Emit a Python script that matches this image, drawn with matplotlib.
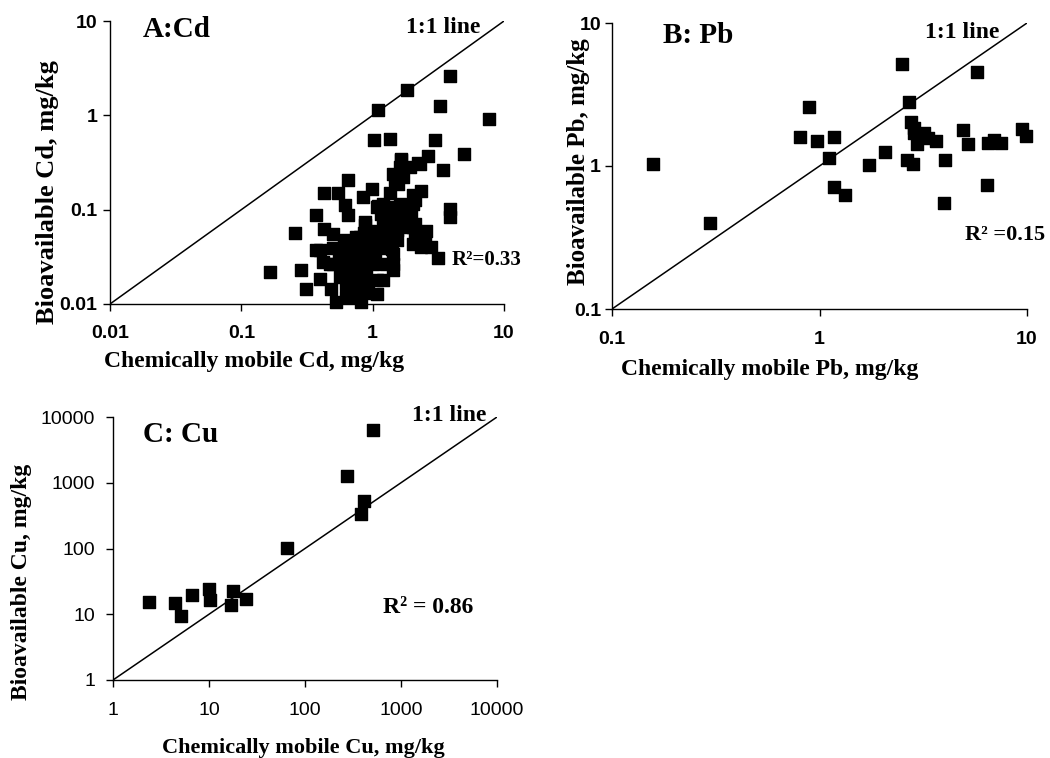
import numpy as np
import matplotlib.pyplot as plt

# Panel A: Cd (chemically mobile vs bioavailable, mg/kg)
cd_x = [3.86, 1.83, 1.10, 3.28, 7.69, 1.02, 1.35, 2.97, 4.96, 1.65, 2.64, 2.28, 3.43,
        0.649, 0.426, 0.544, 0.98, 0.844, 1.35, 2.03, 2.35, 0.612, 0.649, 0.372, 3.86,
        3.86, 0.869, 1.16, 1.81, 2.09, 1.56, 0.258, 0.424, 0.499, 2.03, 2.56, 1.23,
        0.751, 2.09, 2.35, 2.80, 3.14, 0.372, 0.499, 0.708, 1.0, 0.418, 0.164, 0.286,
        0.313, 0.395, 0.484, 0.53, 0.63, 0.82, 1.07, 0.751, 1.20, 1.43, 1.43, 1.27,
        0.895, 0.708, 0.56, 0.63, 0.895, 1.0, 1.0, 0.796, 0.594, 0.47, 0.708, 0.56,
        0.796, 1.43, 1.27, 1.52, 1.52, 1.35, 1.27, 1.70, 1.61, 1.61, 2.03, 1.07, 1.20,
        0.895, 0.796, 0.895, 0.95, 0.63, 0.395, 0.499, 1.43, 1.47, 1.61, 1.70, 1.65,
        1.91, 2.21, 1.56, 1.97, 2.09, 1.35, 1.35, 2.03, 1.47, 1.0, 1.07, 0.895,
        0.75, 0.68, 0.90, 1.15, 0.58, 0.82, 1.25, 0.72, 0.66, 1.05, 0.88, 0.60,
        1.30, 0.78, 0.98, 2.50, 1.80, 1.20, 0.92, 0.55, 0.74, 1.10, 1.40, 0.86]
cd_y = [2.59, 1.84, 1.13, 1.25, 0.91, 0.543, 0.566, 0.543, 0.393, 0.347, 0.367, 0.308,
        0.266, 0.205, 0.151, 0.151, 0.167, 0.136, 0.151, 0.142, 0.157, 0.111, 0.087,
        0.087, 0.102, 0.0835, 0.074, 0.091, 0.102, 0.071, 0.080, 0.057, 0.063, 0.0557,
        0.0654, 0.060, 0.051, 0.051, 0.051, 0.040, 0.040, 0.031, 0.037, 0.039, 0.040,
        0.040, 0.0278, 0.0218, 0.0231, 0.0145, 0.0185, 0.0145, 0.0105, 0.0118, 0.0105,
        0.0128, 0.0139, 0.0178, 0.0227, 0.0267, 0.0267, 0.021, 0.0193, 0.0193, 0.0164,
        0.0164, 0.0267, 0.0314, 0.0267, 0.0267, 0.0267, 0.0314, 0.0314, 0.0341, 0.0341,
        0.0472, 0.0472, 0.0603, 0.0557, 0.039, 0.0654, 0.091, 0.116, 0.116, 0.107,
        0.116, 0.0436, 0.051, 0.0557, 0.060, 0.0472, 0.037, 0.0267, 0.241, 0.205,
        0.283, 0.222, 0.333, 0.283, 0.312, 0.188, 0.091, 0.126, 0.107, 0.0835, 0.0436,
        0.0654, 0.0557, 0.0178, 0.029, 0.022, 0.025, 0.034, 0.045, 0.028, 0.048,
        0.064, 0.018, 0.012, 0.033, 0.068, 0.042, 0.075, 0.015, 0.044, 0.052, 0.098,
        0.072, 0.013, 0.034, 0.019, 0.110, 0.038, 0.056]

# Panel B: Pb
pb_x = [0.158, 0.297, 0.805, 0.893, 0.976, 1.17, 1.11, 1.17, 1.32, 1.74, 2.07, 2.50,
        2.71, 2.76, 2.86, 2.86, 2.65, 2.83, 2.94, 3.20, 3.32, 3.64, 4.03, 3.99, 4.93,
        5.21, 5.76, 6.40, 6.51, 6.93, 7.47, 9.43, 9.86]
pb_y = [1.04, 0.397, 1.60, 2.57, 1.50, 1.60, 1.13, 0.71, 0.627, 1.02, 1.25, 5.17,
        2.79, 2.04, 1.84, 1.69, 1.10, 1.03, 1.43, 1.71, 1.58, 1.50, 1.11, 0.548, 1.79,
        1.43, 4.52, 0.736, 1.45, 1.52, 1.45, 1.81, 1.63]

# Panel C: Cu
cu_x = [2.37, 4.42, 5.1, 6.7, 10.1, 10.2, 17.9, 16.9, 24.1, 64.5, 272, 412, 383, 514]
cu_y = [15.4, 14.7, 9.3, 19.4, 23.9, 16.3, 22.3, 13.7, 16.9, 102, 1277, 534, 336, 6285]

serif = 'Liberation Serif'
sans = 'Liberation Sans'

fig = plt.figure(figsize=(10.5, 7.58), dpi=100)
W, H = 1050, 758


def box(x0, y0, x1, y1):
    return [x0 / W, 1 - y1 / H, (x1 - x0) / W, (y1 - y0) / H]


def setup(ax, lo, hi, ticks, labels, bold, xpad, ypad):
    ax.set_xscale('log')
    ax.set_yscale('log')
    ax.set_xlim(lo[0], hi[0])
    ax.set_ylim(lo[1], hi[1])
    for s in ['top', 'right']:
        ax.spines[s].set_visible(False)
    for s in ['left', 'bottom']:
        ax.spines[s].set_linewidth(1.0)
    ax.minorticks_off()
    ax.set_xticks(ticks[0])
    ax.set_xticklabels(labels[0])
    ax.set_yticks(ticks[1])
    ax.set_yticklabels(labels[1])
    ax.tick_params(direction='out', length=5, width=1, labelsize=14)
    ax.tick_params(axis='x', pad=xpad)
    ax.tick_params(axis='y', pad=ypad)
    for t in ax.get_xticklabels() + ax.get_yticklabels():
        t.set_fontfamily(sans)
        t.set_fontweight('bold' if bold else 'normal')


def txt(ax, x, y, s, size):
    ax.text(x, y, s, transform=ax.transAxes, fontsize=size, fontweight='bold',
            family=serif, va='baseline', ha='left')


# A
axA = fig.add_axes(box(110, 21, 504, 304))
setup(axA, (0.01, 0.01), (10, 10),
      ([0.01, 0.1, 1, 10], [0.01, 0.1, 1, 10]),
      (['0.01', '0.1', '1', '10'], ['0.01', '0.1', '1', '10']), True, 10, 4)
axA.plot([0.01, 10], [0.01, 10], color='black', lw=1.1)
axA.scatter(cd_x, cd_y, marker='s', s=70, color='black', clip_on=False, zorder=3)
txt(axA, 0.084, 0.943, 'A:Cd', 21)
txt(axA, 0.751, 0.958, '1:1 line', 17)
txt(axA, 0.868, 0.138, 'R²=0.33', 15)
fig.text(254 / W, 1 - 362 / H, 'Chemically mobile Cd, mg/kg', ha='center', va='center',
         fontsize=17, fontweight='bold', family=serif)
fig.text(48 / W, 1 - 192 / H, 'Bioavailable Cd, mg/kg', ha='center', va='center',
         rotation=90, fontsize=19, fontweight='bold', family=serif)

# B
axB = fig.add_axes(box(612, 23, 1027, 309))
setup(axB, (0.1, 0.1), (10, 10),
      ([0.1, 1, 10], [0.1, 1, 10]),
      (['0.1', '1', '10'], ['0.1', '1', '10']), True, 11, 3)
axB.plot([0.1, 10], [0.1, 10], color='black', lw=1.1)
axB.scatter(pb_x, pb_y, marker='s', s=64, color='black', clip_on=False, zorder=3)
txt(axB, 0.123, 0.930, 'B: Pb', 21)
txt(axB, 0.754, 0.948, '1:1 line', 17)
txt(axB, 0.851, 0.241, 'R² =0.15', 16)
fig.text(770 / W, 1 - 370 / H, 'Chemically mobile Pb, mg/kg', ha='center', va='center',
         fontsize=17, fontweight='bold', family=serif)
fig.text(578 / W, 1 - 162 / H, 'Bioavailable Pb, mg/kg', ha='center', va='center',
         rotation=90, fontsize=18, fontweight='bold', family=serif)

# C
axC = fig.add_axes(box(113, 417, 497, 680))
cticks = [1, 10, 100, 1000, 10000]
clabels = ['1', '10', '100', '1000', '10000']
setup(axC, (1, 1), (10000, 10000), (cticks, cticks), (clabels, clabels), False, 11, 8)
axC.plot([1, 10000], [1, 10000], color='black', lw=1.1)
axC.scatter(cu_x, cu_y, marker='s', s=85, color='black', clip_on=False, zorder=3)
txt(axC, 0.078, 0.905, 'C: Cu', 21)
txt(axC, 0.779, 0.985, '1:1 line', 17)
txt(axC, 0.703, 0.255, 'R² = 0.86', 17)
fig.text(303 / W, 1 - 748 / H, 'Chemically mobile Cu, mg/kg', ha='center', va='center',
         fontsize=16, fontweight='bold', family=serif)
fig.text(22 / W, 1 - 582 / H, 'Bioavailable Cu, mg/kg', ha='center', va='center',
         rotation=90, fontsize=17, fontweight='bold', family=serif)

fig.savefig('out.png', dpi=100)
